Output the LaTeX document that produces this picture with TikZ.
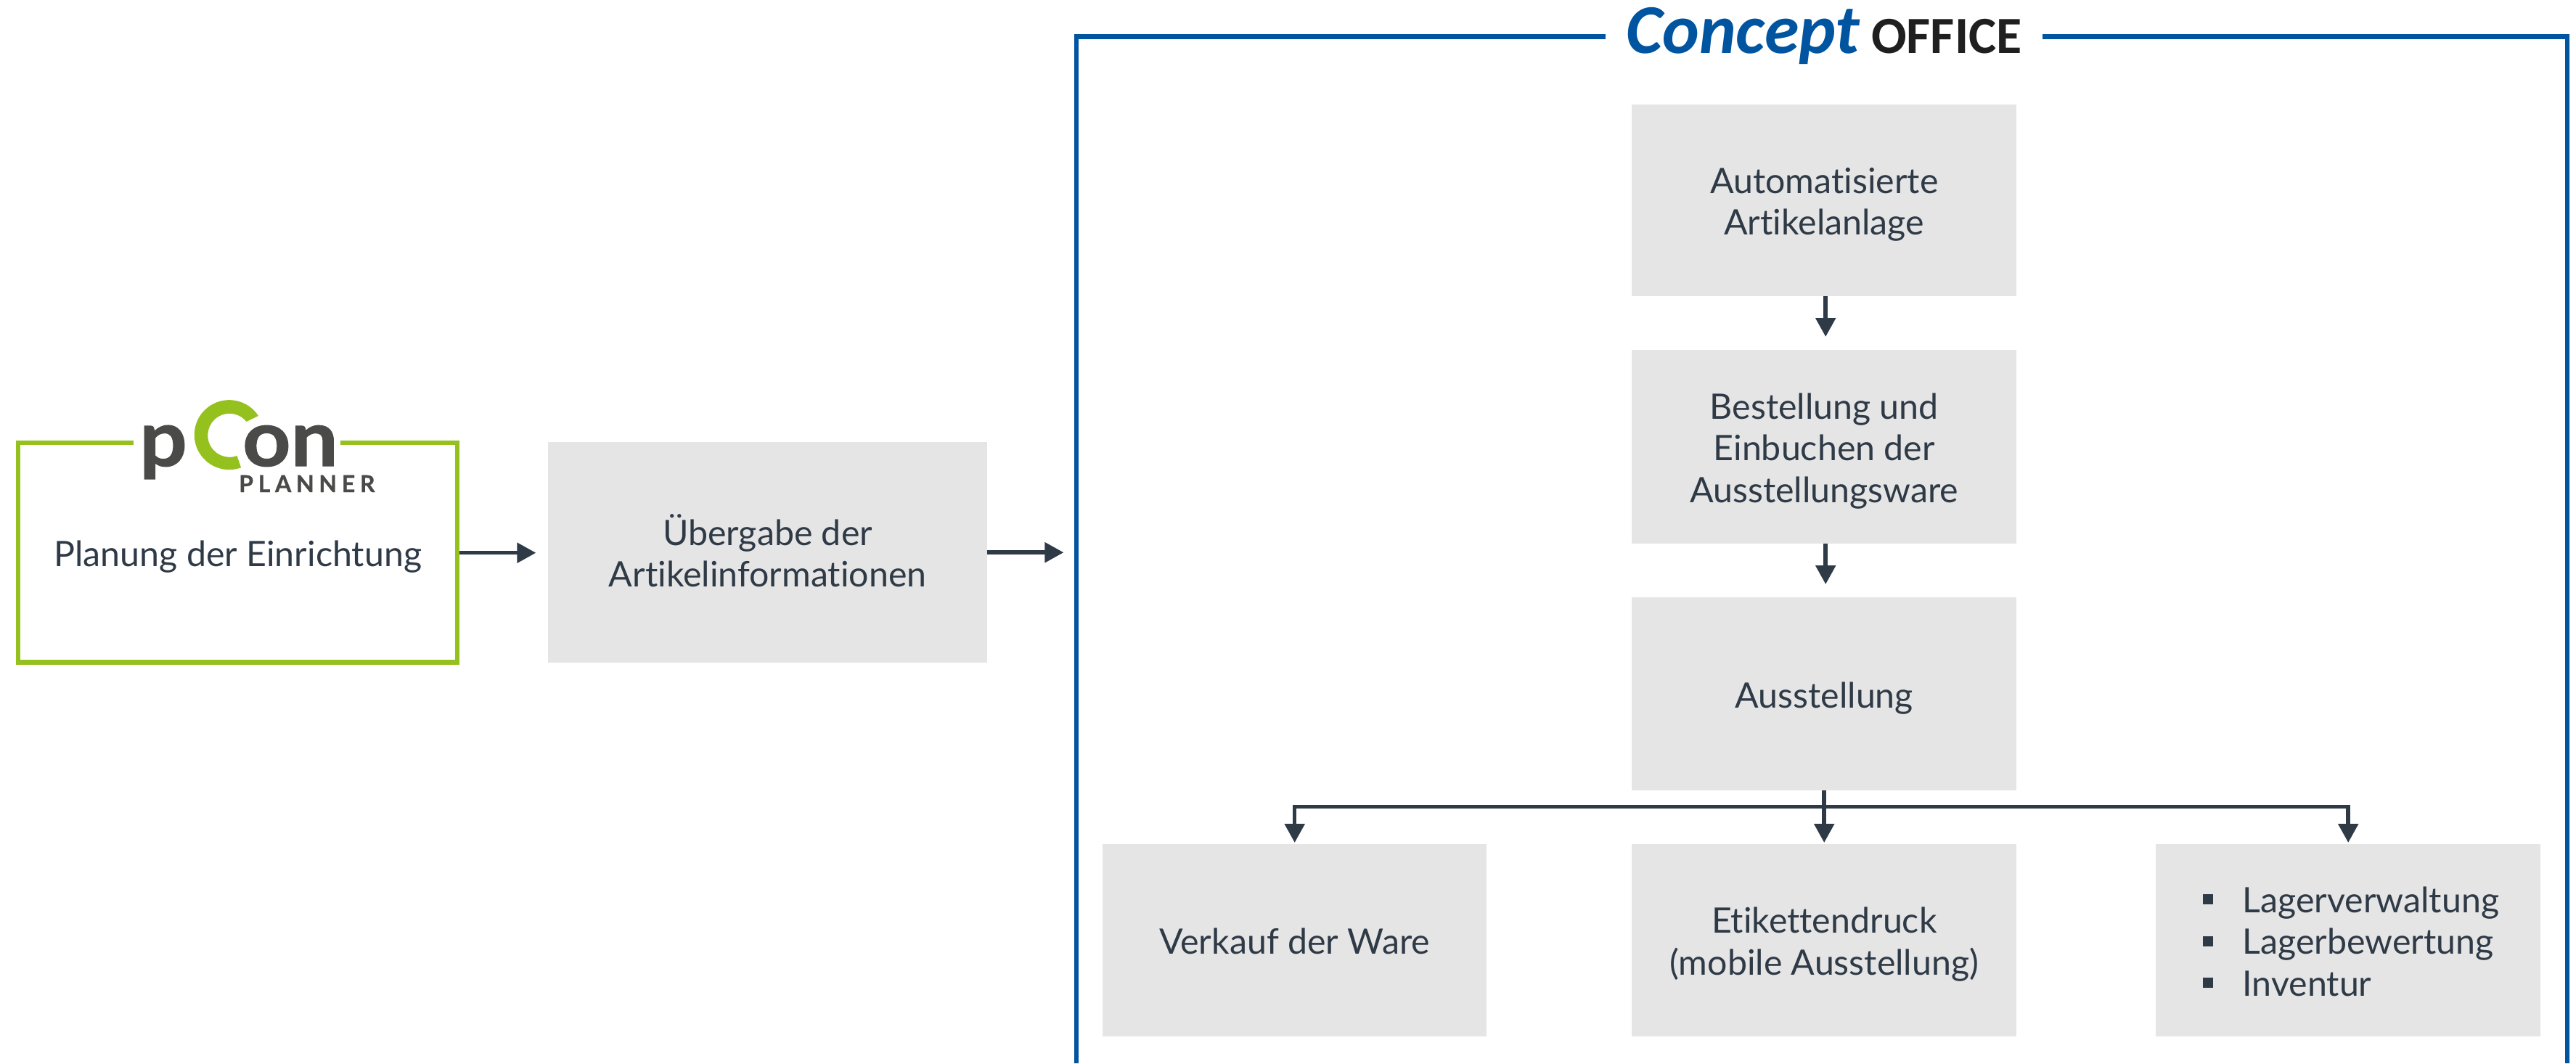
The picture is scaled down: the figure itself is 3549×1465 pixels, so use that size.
\documentclass[tikz,border=0pt]{standalone}
\usepackage{fontspec}
\setmainfont{Lato}[Ligatures=NoCommon]
\newfontfamily\calib{Carlito}
\usetikzlibrary{arrows.meta}
\definecolor{txt}{HTML}{2F3A47}
\definecolor{boxgray}{HTML}{E5E5E5}
\definecolor{cblue}{HTML}{0054A0}
\definecolor{pgreen}{HTML}{95C11F}
\definecolor{pdark}{HTML}{4A4A48}
\newcommand\ftop{\rule{0pt}{50pt}}
\newcommand\fbot{\rule[-12pt]{0pt}{12pt}}
\newcommand\lbullet{\rule[11pt]{14pt}{14pt}\hspace{41pt}}
\tikzset{
  x=1pt,y=-1pt,
  label font/.style={font=\fontsize{48.3}{57.5}\selectfont,text=txt,align=center},
  graybox/.style={fill=boxgray,anchor=north west,inner sep=0pt,label font},
  conn/.style={draw=txt,line width=5.5pt,-{Triangle[length=26pt,width=27pt]}},
  logotext/.style={font=\fontsize{107}{107}\selectfont\bfseries\addfontfeature{FakeStretch=1.08,FakeBold=1.2},text=pdark,inner sep=0pt,anchor=base west},
}
\begin{document}
\begin{tikzpicture}
\useasboundingbox (0,0) rectangle (3549,1465);
% pCon frame
\node[label font,inner sep=0pt,minimum width=611pt,minimum height=309pt,anchor=north west] (plan) at (22,607) {\ftop Planung der Einrichtung\fbot};
\draw[pgreen,line width=6.5pt,line cap=butt] (184,610) -- (25,610) -- (25,912.5) -- (630,912.5) -- (630,610) -- (469,610);
% logo
\node[logotext] (logop) at (192,642) {p};
\fill[pgreen] (356,573) arc[start angle=33,end angle=290,radius=48pt] -- (326.5,628) arc[start angle=290,end angle=39,radius=30pt] -- cycle;
\node[logotext] (logoon) at (334,642) {on};
\node[font=\fontsize{32}{32}\selectfont\bfseries\addfontfeature{LetterSpace=21,FakeBold=1},text=pdark,inner sep=0pt,anchor=base west] (logoplanner) at (329,678) {PLANNER};
% Uebergabe
\node[graybox,minimum width=605pt,minimum height=304pt] (ueber) at (755,609) {\ftop Übergabe der\\Artikelinformationen\fbot};
% Concept frame
\draw[cblue,line width=6.8pt] (2212,50.5) -- (1483,50.5) -- (1483,1465);
\draw[cblue,line width=6.8pt] (2814,50.5) -- (3537,50.5) -- (3537,1465);
\node[font=\calib\fontsize{96.4}{96.4}\selectfont\bfseries\itshape,text=cblue,inner sep=0pt,anchor=base west] (concept) at (2240,73) {Concept};
\node[font=\calib\fontsize{72}{72}\selectfont\bfseries,text=black!88,inner sep=0pt,anchor=base west] (office) at (2578,73) {OFFICE};
% boxes
\node[graybox,minimum width=530pt,minimum height=264pt] (auto) at (2248,144) {\ftop Automatisierte\\Artikelanlage\fbot};
\node[graybox,minimum width=530pt,minimum height=267pt] (best) at (2248,482) {\ftop Bestellung und\\Einbuchen der\\Ausstellungsware\fbot};
\node[graybox,minimum width=530pt,minimum height=266pt] (ausst) at (2248,823) {\ftop Ausstellung\fbot};
\node[graybox,minimum width=529pt,minimum height=265pt] (verk) at (1519,1163) {\ftop Verkauf der Ware\fbot};
\node[graybox,minimum width=530pt,minimum height=265pt] (etik) at (2248,1163) {\ftop Etikettendruck\\(mobile Ausstellung)\fbot};
\node[graybox,minimum height=265pt,text width=401pt,inner xsep=64.5pt,align=left] (lager) at (2970,1163) {%
\mbox{\ftop\lbullet Lagerverwaltung}\\
\mbox{\lbullet Lagerbewertung}\\
\mbox{\lbullet Inventur\fbot}};
% connectors
\path (plan.east) ++(105,0) coordinate (p1);
\path (ueber.east) ++(105,0) coordinate (p2);
\draw[conn] (plan.east) -- (p1);
\draw[conn] (ueber.east) -- (p2);
\draw[conn,shorten >=18pt] ([xshift=2pt]auto.south) -- ([xshift=2pt]best.north);
\draw[conn,shorten >=18pt] ([xshift=2pt]best.south) -- ([xshift=2pt]ausst.north);
\draw[conn,shorten >=2pt] (ausst.south) -- (etik.north);
\path (ausst.south) ++(0,22) coordinate (fork);
\draw[conn,shorten >=2pt] (fork) -| (verk.north);
\draw[conn,shorten >=2pt] (fork) -| (lager.north);
\end{tikzpicture}
\end{document}
